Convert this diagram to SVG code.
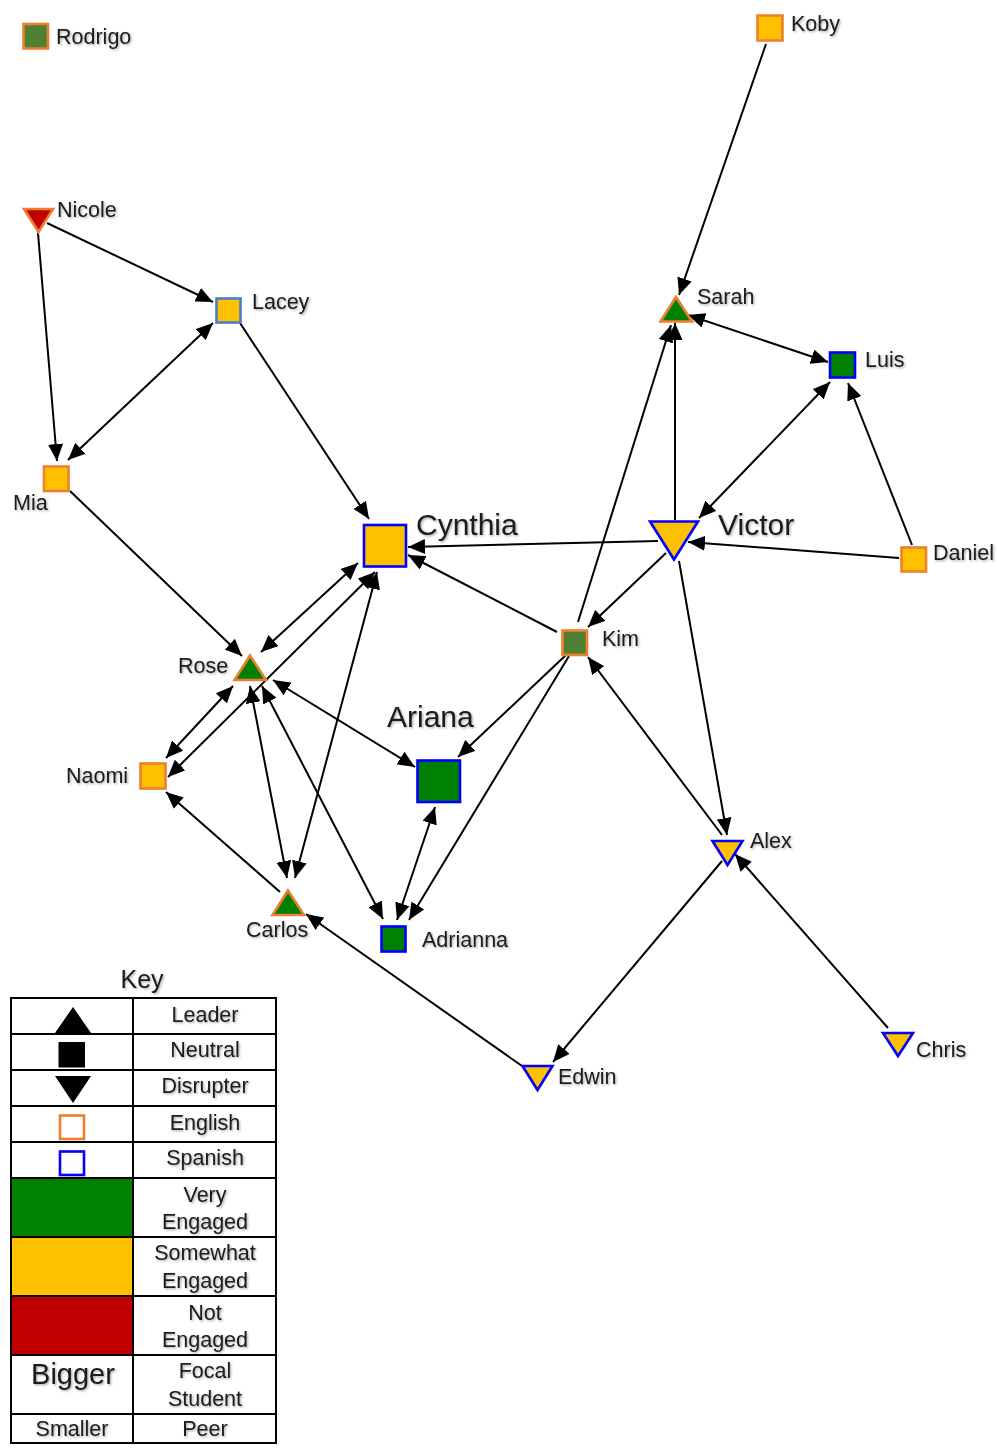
<svg xmlns="http://www.w3.org/2000/svg" width="997" height="1448" viewBox="0 0 997 1448">
  <defs>
    <marker id="ah" viewBox="0 0 17 15" refX="17" refY="7.5" markerWidth="17" markerHeight="15" markerUnits="userSpaceOnUse" orient="auto-start-reverse">
      <path d="M0,0 L17,7.5 L0,15 z" fill="#000"/>
    </marker>
    <filter id="sh" x="-10%" y="-20%" width="130%" height="150%">
      <feDropShadow dx="1.2" dy="1.2" stdDeviation="0.8" flood-color="#000" flood-opacity="0.35"/>
    </filter>
  </defs>
  <style>
    text { font-family: "Liberation Sans", Arial, sans-serif; fill: #1a1a1a; filter: url(#sh); }
    .lbl { font-size: 21.5px; }
    .big { font-size: 30px; }
    .key { font-size: 21.5px; text-anchor: middle; }
    .edge { stroke: #000; stroke-width: 2; fill: none; }
    .one { marker-end: url(#ah); }
    .two { marker-start: url(#ah); marker-end: url(#ah); }
    .en { stroke: #ee7f2d; stroke-width: 2.6; }
    .es { stroke: #0000ff; stroke-width: 2.6; }
    .very { fill: #008000; }
    .some { fill: #ffc000; }
    .not { fill: #c00000; }
    .olive { fill: #4f8033; }
    .grid { stroke: #000; stroke-width: 2; fill: none; }
  </style>
  <rect width="997" height="1448" fill="#fff"/>

  <g id="connectors">
    <line class="edge one" x1="766" y1="44" x2="679" y2="295"/>
    <line class="edge two" x1="688" y1="315" x2="828" y2="362"/>
    <line class="edge one" x1="675" y1="520" x2="675" y2="323"/>
    <line class="edge one" x1="578" y1="622" x2="671" y2="325"/>
    <line class="edge two" x1="699" y1="518" x2="830" y2="382"/>
    <line class="edge one" x1="912" y1="545" x2="848" y2="383"/>
    <line class="edge one" x1="899" y1="558" x2="688" y2="542"/>
    <line class="edge one" x1="658" y1="541" x2="408" y2="547"/>
    <line class="edge one" x1="557" y1="632" x2="408" y2="555"/>
    <line class="edge one" x1="666" y1="553" x2="588" y2="627"/>
    <line class="edge one" x1="679" y1="561" x2="727" y2="835"/>
    <line class="edge one" x1="722" y1="835" x2="588" y2="657"/>
    <line class="edge one" x1="888" y1="1028" x2="735" y2="854"/>
    <line class="edge one" x1="722" y1="861" x2="553" y2="1062"/>
    <line class="edge one" x1="522" y1="1066" x2="306" y2="914"/>
    <line class="edge one" x1="566" y1="655" x2="458" y2="757"/>
    <line class="edge one" x1="569" y1="656" x2="409" y2="920"/>
    <line class="edge two" x1="435" y1="807" x2="397" y2="920"/>
    <line class="edge two" x1="273" y1="680" x2="415" y2="767"/>
    <line class="edge two" x1="262" y1="686" x2="383" y2="919"/>
    <line class="edge two" x1="250" y1="686" x2="287" y2="878"/>
    <line class="edge two" x1="377" y1="572" x2="295" y2="878"/>
    <line class="edge two" x1="166" y1="758" x2="233" y2="686"/>
    <line class="edge two" x1="375" y1="572" x2="168" y2="777"/>
    <line class="edge one" x1="70" y1="491" x2="242" y2="656"/>
    <line class="edge one" x1="280" y1="892" x2="166" y2="792"/>
    <line class="edge one" x1="240" y1="323" x2="369" y2="519"/>
    <line class="edge one" x1="47" y1="223" x2="213" y2="302"/>
    <line class="edge one" x1="38" y1="233" x2="57" y2="461"/>
    <line class="edge two" x1="213" y1="323" x2="68" y2="460"/>
    <line class="edge two" x1="358" y1="563" x2="261" y2="652"/>
  </g>

  <g id="node-rodrigo">
    <rect class="olive en" x="23.5" y="24" width="24.5" height="24.5"/>
    <text class="lbl" x="56" y="44">Rodrigo</text>
  </g>
  <g id="node-koby">
    <rect class="some en" x="757.5" y="15.5" width="25" height="25"/>
    <text class="lbl" x="791" y="31">Koby</text>
  </g>
  <g id="node-nicole">
    <polygon class="not en" points="24,209 53,209 38.5,232"/>
    <text class="lbl" x="57" y="217">Nicole</text>
  </g>
  <g id="node-lacey">
    <rect class="some" x="216.5" y="298.5" width="24" height="24" stroke="#4a7ccc" stroke-width="2.6"/>
    <text class="lbl" x="252" y="309">Lacey</text>
  </g>
  <g id="node-mia">
    <rect class="some en" x="44" y="466.5" width="24.5" height="24.5"/>
    <text class="lbl" x="13" y="510">Mia</text>
  </g>
  <g id="node-sarah">
    <polygon class="very en" points="676,297 692,321.5 660.5,321.5"/>
    <text class="lbl" x="697" y="304">Sarah</text>
  </g>
  <g id="node-luis">
    <rect class="very es" x="830" y="352.5" width="25" height="25"/>
    <text class="lbl" x="865" y="367">Luis</text>
  </g>
  <g id="node-cynthia">
    <rect class="some es" x="364" y="525" width="42" height="41.5"/>
    <text class="big" x="416" y="535">Cynthia</text>
  </g>
  <g id="node-victor">
    <polygon class="some es" points="650,521.5 698,521.5 674,559.5"/>
    <text class="big" x="718" y="535">Victor</text>
  </g>
  <g id="node-daniel">
    <rect class="some en" x="901.5" y="547.5" width="24.5" height="24"/>
    <text class="lbl" x="933" y="560">Daniel</text>
  </g>
  <g id="node-kim">
    <rect class="olive en" x="562.5" y="630.5" width="24.5" height="24.5"/>
    <text class="lbl" x="602" y="646">Kim</text>
  </g>
  <g id="node-rose">
    <polygon class="very en" points="250,655.5 266,680 234.5,680"/>
    <text class="lbl" x="178" y="673">Rose</text>
  </g>
  <g id="node-naomi">
    <rect class="some en" x="140.5" y="763.5" width="25" height="25"/>
    <text class="lbl" x="66" y="783">Naomi</text>
  </g>
  <g id="node-ariana">
    <rect class="very es" x="417.5" y="760.5" width="42.5" height="41.5"/>
    <text class="big" x="387" y="727">Ariana</text>
  </g>
  <g id="node-carlos">
    <polygon class="very en" points="288,890.5 304,915 272.5,915"/>
    <text class="lbl" x="246" y="937">Carlos</text>
  </g>
  <g id="node-adrianna">
    <rect class="very es" x="381.5" y="926.5" width="24" height="25"/>
    <text class="lbl" x="422" y="947">Adrianna</text>
  </g>
  <g id="node-alex">
    <polygon class="some es" points="712.5,841 742.5,841 727.5,865"/>
    <text class="lbl" x="750" y="848">Alex</text>
  </g>
  <g id="node-chris">
    <polygon class="some es" points="883,1033 913,1033 898,1056"/>
    <text class="lbl" x="916" y="1057">Chris</text>
  </g>
  <g id="node-edwin">
    <polygon class="some es" points="522.5,1066 552.5,1066 537.5,1090"/>
    <text class="lbl" x="558" y="1084">Edwin</text>
  </g>

  <g id="key">
    <text x="142" y="988" font-size="25" text-anchor="middle">Key</text>
    <rect class="very" x="12" y="1178" width="121" height="59"/>
    <rect class="some" x="12" y="1237" width="121" height="59"/>
    <rect class="not" x="12" y="1296" width="121" height="59"/>
    <rect class="grid" x="11" y="998" width="265" height="445"/>
    <path class="grid" d="M133,998 V1443 M11,1034 H276 M11,1070 H276 M11,1106 H276 M11,1142 H276 M11,1178 H276 M11,1237 H276 M11,1296 H276 M11,1355 H276 M11,1414 H276"/>
    <polygon points="73,1007 91,1033 55,1033" fill="#000"/>
    <rect x="58.5" y="1042" width="26.5" height="25.5" fill="#000"/>
    <polygon points="55,1076 91,1076 73,1103" fill="#000"/>
    <rect x="60" y="1115.5" width="24" height="23.5" fill="#fff" class="en"/>
    <rect x="60" y="1151.5" width="24" height="23.5" fill="#fff" class="es"/>
    <text class="key" x="205" y="1022">Leader</text>
    <text class="key" x="205" y="1057">Neutral</text>
    <text class="key" x="205" y="1093">Disrupter</text>
    <text class="key" x="205" y="1130">English</text>
    <text class="key" x="205" y="1165">Spanish</text>
    <text class="key" x="205" y="1202">Very</text>
    <text class="key" x="205" y="1229">Engaged</text>
    <text class="key" x="205" y="1260">Somewhat</text>
    <text class="key" x="205" y="1288">Engaged</text>
    <text class="key" x="205" y="1320">Not</text>
    <text class="key" x="205" y="1347">Engaged</text>
    <text class="key" x="205" y="1378">Focal</text>
    <text class="key" x="205" y="1406">Student</text>
    <text class="key" x="205" y="1436">Peer</text>
    <text x="73" y="1384" font-size="29" text-anchor="middle">Bigger</text>
    <text class="key" x="72" y="1436">Smaller</text>
  </g>
</svg>
